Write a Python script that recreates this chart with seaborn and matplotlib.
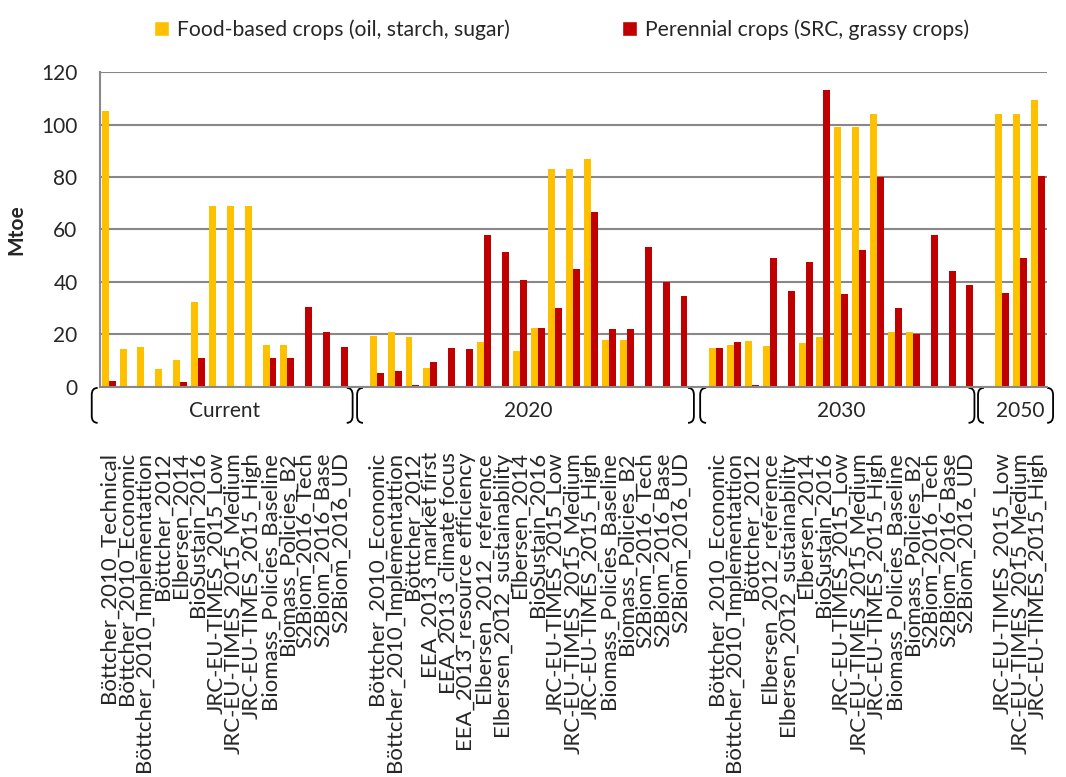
import matplotlib.pyplot as plt
import matplotlib.transforms as mtransforms
from matplotlib.path import Path
from matplotlib.patches import PathPatch, Patch
import seaborn as sns
import pandas as pd

FOOD = "Food-based crops (oil, starch, sugar)"
PERENNIAL = "Perennial crops (SRC, grassy crops)"

periods = ["Current", "2020", "2030", "2050"]

labels_current = ["Böttcher_2010_Technical", "Böttcher_2010_Economic", "Böttcher_2010_Implementattion",
                  "Böttcher_2012", "Elbersen_2014", "BioSustain_2016", "JRC-EU-TIMES_2015_Low",
                  "JRC-EU-TIMES_2015_Medium", "JRC-EU-TIMES_2015_High", "Biomass_Policies_Baseline",
                  "Biomass_Policies_B2", "S2Biom_2016_Tech", "S2Biom_2016_Base", "S2Biom_2016_UD"]
food_current = [105.0, 14.3, 15.3, 6.8, 10.3, 32.2, 69.0, 69.0, 69.0, 16.0, 16.0, 0, 0, 0]
perennial_current = [2.3, 0, 0, 0, 1.8, 11.0, 0, 0, 0, 11.0, 11.0, 30.4, 21.0, 15.4]

labels_2020 = ["Böttcher_2010_Economic", "Böttcher_2010_Implementattion", "Böttcher_2012",
               "EEA_2013_market first", "EEA_2013_climate focus", "EEA_2013_resource efficiency",
               "Elbersen_2012_reference", "Elbersen_2012_sustainability", "Elbersen_2014",
               "BioSustain_2016", "JRC-EU-TIMES_2015_Low", "JRC-EU-TIMES_2015_Medium",
               "JRC-EU-TIMES_2015_High", "Biomass_Policies_Baseline", "Biomass_Policies_B2",
               "S2Biom_2016_Tech", "S2Biom_2016_Base", "S2Biom_2016_UD"]
food_2020 = [19.4, 20.8, 18.9, 7.1, 0, 0, 17.1, 0, 13.7, 22.4, 83.2, 83.2, 86.9, 17.8, 17.8, 0, 0, 0]
perennial_2020 = [5.4, 6.1, 0.6, 9.4, 14.9, 14.3, 57.8, 51.4, 40.6, 22.4, 30.1, 44.8, 66.8, 22.0, 22.0,
                  53.2, 40.1, 34.8]

labels_2030 = ["Böttcher_2010_Economic", "Böttcher_2010_Implementattion", "Böttcher_2012",
               "Elbersen_2012_reference", "Elbersen_2012_sustainability", "Elbersen_2014",
               "BioSustain_2016", "JRC-EU-TIMES_2015_Low", "JRC-EU-TIMES_2015_Medium",
               "JRC-EU-TIMES_2015_High", "Biomass_Policies_Baseline", "Biomass_Policies_B2",
               "S2Biom_2016_Tech", "S2Biom_2016_Base", "S2Biom_2016_UD"]
food_2030 = [14.9, 15.9, 17.5, 15.7, 0, 16.7, 19.1, 98.9, 98.9, 103.9, 20.9, 20.9, 0, 0, 0]
perennial_2030 = [14.9, 17.1, 0.8, 49.1, 36.7, 47.8, 113.0, 35.6, 52.0, 79.9, 30.0, 20.1, 57.8, 44.1, 38.7]

labels_2050 = ["JRC-EU-TIMES_2015_Low", "JRC-EU-TIMES_2015_Medium", "JRC-EU-TIMES_2015_High"]
food_2050 = [104.1, 104.1, 109.4]
perennial_2050 = [35.9, 49.1, 80.3]

all_labels = [labels_current, labels_2020, labels_2030, labels_2050]
all_food = [food_current, food_2020, food_2030, food_2050]
all_perennial = [perennial_current, perennial_2020, perennial_2030, perennial_2050]

# build long table, with one empty slot between the periods
rows = []
order = []
ticklabels = []
spans = []
for p, labs, food, per in zip(periods, all_labels, all_food, all_perennial):
    if order:
        order.append("gap_" + p)
        ticklabels.append("")
    start = len(order)
    for lab, f, r in zip(labs, food, per):
        key = p + "|" + lab
        order.append(key)
        ticklabels.append(lab)
        rows.append({"slot": key, "series": FOOD, "value": f})
        rows.append({"slot": key, "series": PERENNIAL, "value": r})
    spans.append((p, start, len(order) - 1))
df = pd.DataFrame(rows)

sns.set_theme(style="white")
plt.rcParams['font.family'] = ['Lato', 'DejaVu Sans']

yellow = "#FFC000"
red = "#C00000"

fig = plt.figure(figsize=(10.66, 7.77), dpi=100)
ax = fig.add_axes([0.0936, 0.502, 0.8884, 0.4053])

sns.barplot(data=df, x="slot", y="value", hue="series", order=order, hue_order=[FOOD, PERENNIAL],
            palette=[yellow, red], width=0.78, gap=0, saturation=1, errorbar=None,
            linewidth=0, legend=False, ax=ax)

ax.set_xlim(-0.5, len(order) - 0.5)
ax.set_ylim(0, 120)
ax.set_yticks(range(0, 121, 20))
ax.yaxis.grid(True, color="#888888", linewidth=1.5)
ax.set_axisbelow(True)
for s in ["top", "right"]:
    ax.spines[s].set_visible(False)
for s in ["left", "bottom"]:
    ax.spines[s].set_color("#888888")
    ax.spines[s].set_linewidth(1.5)

ax.set_xticks(range(len(order)))
ax.set_xticklabels(ticklabels, rotation=90, fontsize=16)
ax.tick_params(axis="x", length=0, pad=47)
ax.tick_params(axis="y", length=0, pad=16, labelsize=15)
ax.set_xlabel("")
ax.set_ylabel("Mtoe", fontsize=15, fontweight="bold")
ax.yaxis.set_label_coords(-0.077, 0.5)

# period brackets under the axis
trans = mtransforms.blended_transform_factory(ax.transData, ax.transAxes)
y0, y1, r, w = -0.003, -0.114, 0.022, 0.33


def bracket(x, d):
    verts = [(x + d * w, y0), (x, y0), (x, y0 - r), (x, y1 + r), (x, y1), (x + d * w, y1)]
    codes = [Path.MOVETO, Path.CURVE3, Path.CURVE3, Path.LINETO, Path.CURVE3, Path.CURVE3]
    ax.add_patch(PathPatch(Path(verts, codes), transform=trans, fill=False, edgecolor="black",
                           linewidth=1.3, clip_on=False))


# bracket offsets from the first / last slot of each period
left_off = [-0.95, -1.1, -0.9, -1.35]
right_off = [0.65, 0.75, 0.45, 0.85]
for (p, s, e), lo, ro in zip(spans, left_off, right_off):
    bracket(s + lo, 1)
    bracket(e + ro, -1)
    ax.text((s + e) / 2, -0.075, p, transform=trans, ha="center", va="center", fontsize=15)

handles = [Patch(facecolor=yellow, label=FOOD), Patch(facecolor=red, label=PERENNIAL)]
fig.legend(handles=handles, loc="upper center", bbox_to_anchor=(0.527, 1.0), ncol=2, frameon=False,
           fontsize=15.2, handlelength=0.7, handleheight=0.7, handletextpad=0.4, columnspacing=5.3)

fig.savefig("out.png", dpi=100)
